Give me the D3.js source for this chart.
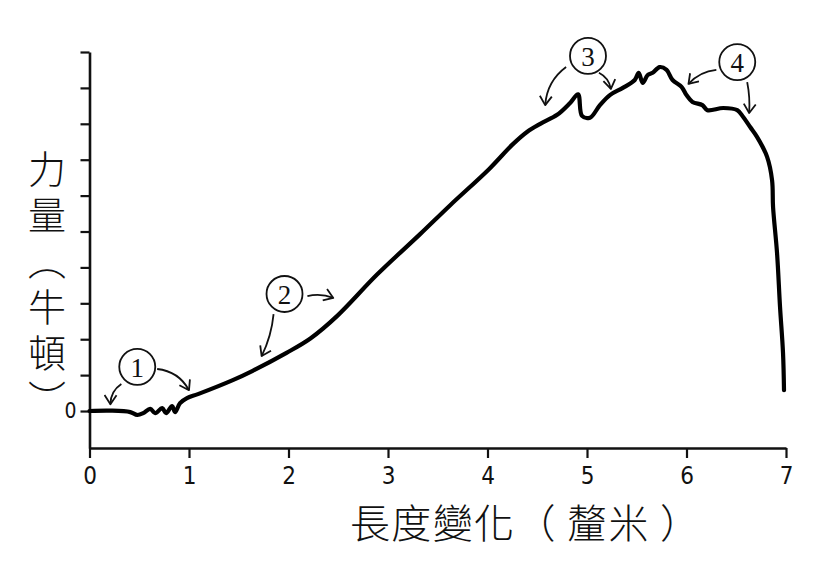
<!DOCTYPE html>
<html>
<head>
<meta charset="utf-8">
<script src="https://cdn.jsdelivr.net/npm/d3@7"></script>
<style>
	body { margin: 0; background: #fff; }
	svg { display: block; }
	.tick text { font-family: "Liberation Sans Narrow", "DejaVu Sans Condensed", sans-serif; }
</style>
</head>
<body>
<svg width="819" height="565"></svg>
<script>
// force–extension curve, values
const lengthChange = [0, 0.21, 0.41, 0.48, 0.54, 0.61, 0.66, 0.73, 0.77, 0.83, 0.86, 0.91, 0.98, 1.09,
	1.44, 1.64, 1.98, 2.22, 2.49, 2.89, 3.32, 3.62, 4.02, 4.25, 4.40, 4.53, 4.70, 4.83, 4.91, 4.95, 5.03,
	5.13, 5.23, 5.36, 5.48, 5.52, 5.56, 5.61, 5.66, 5.73, 5.80, 5.86, 5.95, 6.00, 6.06, 6.16, 6.21,
	6.37, 6.51, 6.57, 6.64, 6.71, 6.81, 6.86, 6.87, 6.91, 6.94, 6.97, 6.98];
const force = [0, 0.01, -0.03, -0.11, -0.06, 0.06, -0.06, 0.08, -0.06, 0.14, -0.03, 0.22, 0.36, 0.47,
	0.86, 1.12, 1.62, 2.02, 2.65, 3.80, 4.92, 5.72, 6.75, 7.42, 7.78, 8.00, 8.25, 8.58, 8.82, 8.22, 8.17,
	8.52, 8.80, 9.00, 9.22, 9.42, 9.14, 9.36, 9.42, 9.58, 9.50, 9.22, 9.03, 8.80, 8.61, 8.52, 8.38,
	8.44, 8.38, 8.19, 7.91, 7.63, 7.08, 6.43, 5.68, 4.40, 2.90, 1.62, 0.58];

const xTicks = [0, 1, 2, 3, 4, 5, 6, 7];
const xTickLabels = ["0", "1", "2", "3", "4", "5", "6", "7"];
const yTicks = [0, 1, 2, 3, 4, 5, 6, 7, 8, 9, 10];
const yTickLabels = ["0", "", "", "", "", "", "", "", "", "", ""];

const xTitle = "長度變化（ 釐米 ）";
const yTitle = "力量（牛頓）";

// circled stage numbers and their arrows (data units)
const noteLabels = ["1", "2", "3", "4"];
const noteX = [0.48, 1.96, 5.01, 6.51];
const noteY = [1.23, 3.26, 9.89, 9.72];
const arrowFrom = [[0.32, 0.75], [0.68, 1.17], [1.85, 2.70], [2.19, 3.20], [4.79, 9.58], [5.12, 9.42], [6.30, 9.50], [6.61, 9.16]];
const arrowTo = [[0.21, 0.19], [1.00, 0.58], [1.73, 1.53], [2.45, 3.15], [4.58, 8.52], [5.24, 8.97], [6.02, 9.11], [6.63, 8.30]];
const arrowBend = [-6, 10, 4, 4, -10, 5, -6, 2];

const svg = d3.select("svg");

const x = d3.scaleLinear().domain([0, 7]).range([89.5, 786]);
const y = d3.scaleLinear().domain([-1.03, 10]).range([448, 52]);

svg.append("defs").append("marker")
	.attr("id", "head")
	.attr("viewBox", "-10 -7 12 14")
	.attr("markerUnits", "userSpaceOnUse")
	.attr("markerWidth", 12)
	.attr("markerHeight", 14)
	.attr("refX", 0)
	.attr("refY", 0)
	.attr("orient", "auto")
	.append("path")
	.attr("d", "M-9,-6L0,0L-9,6")
	.attr("fill", "none")
	.attr("stroke", "#111")
	.attr("stroke-width", 1.8)
	.attr("stroke-linejoin", "round");

// axes
const xAxis = svg.append("g")
	.attr("transform", `translate(0,${y(-1.03)})`)
	.call(d3.axisBottom(x).tickValues(xTicks).tickSize(10).tickSizeOuter(0).tickPadding(9)
		.tickFormat((d, i) => xTickLabels[i]));

const yAxis = svg.append("g")
	.attr("transform", `translate(${x(0)},0)`)
	.call(d3.axisLeft(y).tickValues(yTicks).tickSize(9).tickSizeOuter(0).tickPadding(4)
		.tickFormat((d, i) => yTickLabels[i]));

[xAxis, yAxis].forEach(g => {
	g.select(".domain").attr("stroke", "#111").attr("stroke-width", 2.6);
	g.selectAll(".tick line").attr("stroke", "#111").attr("stroke-width", 2.2);
	g.selectAll(".tick text").attr("fill", "#111");
});
xAxis.selectAll(".tick text").attr("font-size", 24);
yAxis.selectAll(".tick text").attr("font-size", 21);

// the curve
const points = lengthChange.map((v, i) => [v, force[i]]);
const line = d3.line()
	.x(d => x(d[0]))
	.y(d => y(d[1]))
	.curve(d3.curveCatmullRom.alpha(0.5));

svg.append("path")
	.datum(points)
	.attr("d", line)
	.attr("fill", "none")
	.attr("stroke", "#000")
	.attr("stroke-width", 4.2)
	.attr("stroke-linejoin", "round")
	.attr("stroke-linecap", "round");

// annotations
svg.append("g").selectAll("path")
	.data(arrowFrom)
	.join("path")
	.attr("d", (a, i) => {
		const x0 = x(a[0]), y0 = y(a[1]);
		const x1 = x(arrowTo[i][0]), y1 = y(arrowTo[i][1]);
		const dx = x1 - x0, dy = y1 - y0, len = Math.hypot(dx, dy);
		const cx = (x0 + x1) / 2 + dy / len * arrowBend[i];
		const cy = (y0 + y1) / 2 - dx / len * arrowBend[i];
		return `M${x0},${y0}Q${cx},${cy} ${x1},${y1}`;
	})
	.attr("fill", "none")
	.attr("stroke", "#111")
	.attr("stroke-width", 1.8)
	.attr("marker-end", "url(#head)");

const notes = svg.append("g").selectAll("g")
	.data(noteLabels)
	.join("g")
	.attr("transform", (d, i) => `translate(${x(noteX[i])},${y(noteY[i])})`);

notes.append("circle")
	.attr("r", 18)
	.attr("fill", "#fff")
	.attr("stroke", "#111")
	.attr("stroke-width", 1.8);

notes.append("text")
	.text(d => d)
	.attr("text-anchor", "middle")
	.attr("dy", "0.36em")
	.attr("font-family", "Liberation Serif, serif")
	.attr("font-size", 27)
	.attr("fill", "#111");

// titles
svg.append("text")
	.text(xTitle)
	.attr("x", 350)
	.attr("y", 538)
	.attr("textLength", 350)
	.attr("lengthAdjust", "spacing")
	.attr("font-family", "Noto Sans CJK TC")
	.attr("font-weight", 300)
	.attr("font-size", 40)
	.attr("fill", "#111");

svg.append("text")
	.text(yTitle)
	.attr("x", 47)
	.attr("y", 150)
	.attr("writing-mode", "vertical-rl")
	.attr("letter-spacing", 8)
	.attr("font-family", "Noto Sans CJK TC")
	.attr("font-weight", 300)
	.attr("font-size", 38)
	.attr("fill", "#111");
</script>
</body>
</html>
